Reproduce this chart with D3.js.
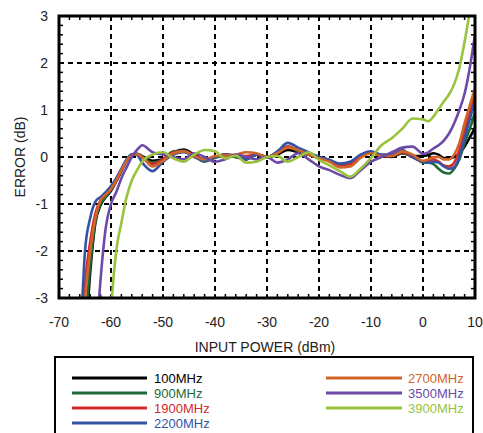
<!DOCTYPE html>
<html>
<head>
<meta charset="utf-8">
<script src="https://cdn.jsdelivr.net/npm/d3@7/dist/d3.min.js"></script>
<style>
  html, body { margin: 0; padding: 0; background: #fff; }
  svg { display: block; font-family: "Liberation Sans", Arial, sans-serif; }
</style>
</head>
<body>
<svg id="chart" width="483" height="433"></svg>
<script>
// ---- data ----
const power = [-67,-66,-65,-64,-63,-62,-61,-60,-59,-58,-57,-56,-55,-54,
  -52,-50,-48,-46,-44,-42,-40,-38,-36,-34,-32,-30,-28,-26,-24,-22,-20,-18,-16,-14,-12,-10,-8,-6,-4,-2,
  0,1,2,3,4,5,6,7,8,9,10];

const err100 = [-5.5,-4.8,-4.0,-2.45,-1.4,-1.02,-0.85,-0.72,-0.52,-0.3,-0.08,0.05,0.07,0.02,
  -0.08,-0.05,0.1,0.16,0.05,-0.05,0.0,0.05,0.0,-0.05,0.05,0.0,0.05,0.15,0.1,0.05,-0.02,-0.08,-0.18,-0.16,0.0,0.1,0.03,0.0,0.08,0.02,
  0.02,0.04,0.08,0.05,-0.02,-0.02,0.0,0.08,0.22,0.42,0.62];
const err900 = [-5.5,-4.6,-3.6,-2.3,-1.35,-1.0,-0.84,-0.7,-0.5,-0.28,-0.07,0.05,0.07,0.0,
  -0.12,-0.05,0.12,0.13,0.02,-0.1,-0.02,0.02,0.0,-0.02,0.05,0.0,0.1,0.22,0.12,0.05,0.0,-0.07,-0.18,-0.12,0.02,0.1,0.04,0.02,0.08,0.03,
  -0.12,-0.12,-0.15,-0.25,-0.33,-0.35,-0.25,-0.05,0.3,0.6,0.95];
const err1900 = [-5.8,-4.5,-2.7,-1.8,-1.2,-0.92,-0.8,-0.68,-0.5,-0.28,-0.07,0.05,0.06,-0.02,
  -0.15,-0.05,0.1,0.12,0.03,-0.06,0.0,0.05,0.03,0.02,0.05,0.0,0.1,0.22,0.15,0.07,0.0,-0.08,-0.2,-0.15,0.0,0.1,0.03,0.02,0.1,0.0,
  -0.1,-0.08,-0.05,-0.1,-0.18,-0.2,-0.12,0.15,0.55,0.95,1.3];
const err2200 = [-6,-4.2,-2.0,-1.3,-0.95,-0.85,-0.75,-0.62,-0.45,-0.25,-0.05,0.06,0.04,-0.12,
  -0.3,-0.1,0.05,0.1,0.0,-0.08,0.0,0.05,0.02,-0.05,0.05,0.0,0.12,0.3,0.2,0.1,0.0,-0.06,-0.14,-0.1,0.05,0.12,0.05,0.05,0.15,0.0,
  -0.1,-0.12,-0.1,-0.12,-0.2,-0.25,-0.22,0.0,0.4,0.8,1.2];
const err2700 = [-5.5,-4.2,-3.0,-2.0,-1.3,-0.92,-0.8,-0.68,-0.5,-0.28,-0.08,0.04,0.06,0.0,
  -0.2,-0.08,0.08,0.12,0.02,-0.05,0.02,0.03,0.05,0.1,0.08,0.0,0.08,0.2,0.15,0.05,-0.03,-0.1,-0.22,-0.2,-0.02,0.08,0.02,0.02,0.12,0.05,
  -0.08,-0.05,0.0,0.0,-0.05,-0.05,0.05,0.3,0.72,1.1,1.45];
const err3500 = [-7,-7,-7,-6,-4.2,-2.6,-1.5,-1.0,-0.75,-0.45,-0.22,0.0,0.15,0.25,
  0.1,0.05,0.0,-0.05,0.08,0.0,-0.1,-0.05,0.05,0.0,-0.05,0.0,-0.12,-0.05,0.08,-0.05,-0.2,-0.28,-0.38,-0.45,-0.28,-0.1,0.0,0.1,0.2,0.22,
  0.07,0.1,0.18,0.25,0.35,0.5,0.72,1.0,1.35,1.9,2.6];
const err3900 = [-7,-7,-7,-7,-7,-7,-6,-3.3,-2.0,-1.4,-0.85,-0.5,-0.28,-0.1,
  0.05,0.1,-0.03,-0.1,0.05,0.15,0.12,-0.03,0.03,-0.12,-0.1,0.0,0.02,-0.1,0.0,0.1,-0.06,-0.18,-0.3,-0.42,-0.25,-0.02,0.25,0.4,0.6,0.82,
  0.8,0.76,0.86,1.02,1.18,1.33,1.55,1.9,2.45,3.1,3.8];

const seriesNames = ["100MHz","900MHz","1900MHz","2200MHz","2700MHz","3500MHz","3900MHz"];
const seriesValues = [err100, err900, err1900, err2200, err2700, err3500, err3900];
const seriesColors = ["#000000","#1e6b38","#d12b2b","#3553a5","#d0652a","#6b4aa8","#9ac23c"];

const xTicks = [-70,-60,-50,-40,-30,-20,-10,0,10];
const yTicks = [-3,-2,-1,0,1,2,3];

// ---- layout ----
const svg = d3.select("#chart");
const L = 59, R = 475, T = 16, B = 298;
const x = d3.scaleLinear().domain([-70,10]).range([L,R]);
const y = d3.scaleLinear().domain([-3,3]).range([B,T]);

// grid
const grid = svg.append("g");
grid.selectAll("line.vx").data(xTicks.slice(1,-1)).join("line")
  .attr("x1", d=>x(d)).attr("x2", d=>x(d)).attr("y1", T).attr("y2", B)
  .attr("stroke","#000").attr("stroke-width",2).attr("stroke-dasharray","5,4");
grid.selectAll("line.hy").data(yTicks.slice(1,-1)).join("line")
  .attr("y1", d=>y(d)).attr("y2", d=>y(d)).attr("x1", L).attr("x2", R)
  .attr("stroke","#000").attr("stroke-width",2).attr("stroke-dasharray","5,4");

// minor ticks (inside)
const xMinor = d3.range(-70, 10.01, 2);
const yMinor = d3.range(-3, 3.001, 0.2);
const tk = svg.append("g").attr("stroke","#000").attr("stroke-width",1.5);
xMinor.forEach(v => {
  tk.append("line").attr("x1",x(v)).attr("x2",x(v)).attr("y1",T).attr("y2",T+4);
  tk.append("line").attr("x1",x(v)).attr("x2",x(v)).attr("y1",B).attr("y2",B-4);
});
yMinor.forEach(v => {
  tk.append("line").attr("y1",y(v)).attr("y2",y(v)).attr("x1",L).attr("x2",L+4);
  tk.append("line").attr("y1",y(v)).attr("y2",y(v)).attr("x1",R).attr("x2",R-4);
});

// lines
svg.append("clipPath").attr("id","plotclip").append("rect")
  .attr("x",L).attr("y",T).attr("width",R-L).attr("height",B-T);
const line = d3.line().x((d,i)=>x(power[i])).y(d=>y(d)).curve(d3.curveMonotoneX);
const lg = svg.append("g").attr("clip-path","url(#plotclip)");
seriesValues.forEach((vals, k) => {
  lg.append("path").attr("d", line(vals)).attr("fill","none")
    .attr("stroke", seriesColors[k]).attr("stroke-width",2.6)
    .attr("stroke-linejoin","round");
});

// frame
svg.append("rect").attr("x",L).attr("y",T).attr("width",R-L).attr("height",B-T)
  .attr("fill","none").attr("stroke","#000").attr("stroke-width",3);

// tick labels
svg.append("g").selectAll("text").data(yTicks).join("text")
  .attr("x",48).attr("y",d=>y(d)+5).attr("text-anchor","end")
  .attr("font-size",14).attr("fill","#222").text(d=>d);
svg.append("g").selectAll("text").data(xTicks).join("text")
  .attr("x",d=>x(d)).attr("y",327).attr("text-anchor","middle")
  .attr("font-size",14).attr("fill","#222").text(d=>d);

// axis titles
svg.append("text").attr("transform","translate(25,157) rotate(-90)")
  .attr("text-anchor","middle").attr("font-size",14).attr("fill","#222").text("ERROR (dB)");
svg.append("text").attr("x",265).attr("y",352).attr("text-anchor","middle")
  .attr("font-size",14).attr("fill","#222").text("INPUT POWER (dBm)");

// legend
svg.append("rect").attr("x",55).attr("y",357).attr("width",418).attr("height",100)
  .attr("fill","none").attr("stroke","#000").attr("stroke-width",2);
const legendPos = [
  {x1:72, x2:147, tx:154, y:378},
  {x1:72, x2:147, tx:154, y:393},
  {x1:72, x2:147, tx:154, y:408},
  {x1:72, x2:147, tx:154, y:423},
  {x1:326, x2:402, tx:408, y:378},
  {x1:326, x2:402, tx:408, y:393},
  {x1:326, x2:402, tx:408, y:408}
];
seriesNames.forEach((name,k) => {
  const p = legendPos[k];
  svg.append("line").attr("x1",p.x1).attr("x2",p.x2).attr("y1",p.y).attr("y2",p.y)
    .attr("stroke",seriesColors[k]).attr("stroke-width",3);
  svg.append("text").attr("x",p.tx).attr("y",p.y+4.5).attr("font-size",13)
    .attr("fill",seriesColors[k]).text(name);
});
</script>
</body>
</html>
